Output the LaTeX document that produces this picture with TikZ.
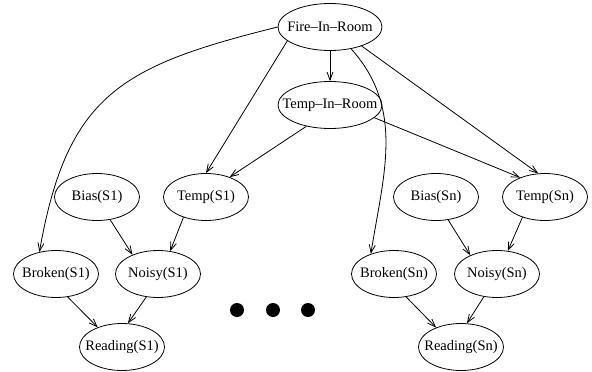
\documentclass[tikz,border=0pt]{standalone}
\usepackage{fontspec}
\setmainfont{Liberation Serif}
\usetikzlibrary{positioning,arrows.meta,shapes.geometric}

\begin{document}
\begin{tikzpicture}[
  font=\fontsize{14.5}{16}\selectfont,
  on grid,
  line width=0.8pt,
  var/.style={ellipse,draw,inner sep=-15pt,minimum width=85pt,minimum height=47pt},
  bigvar/.style={var,minimum width=104pt},
  dot/.style={circle,fill=black,inner sep=0pt,minimum size=14pt},
  arr/.style={-{Straight Barb[length=8pt,width=6pt]}},
]
\useasboundingbox (0,0) rectangle (592pt,-372pt);

% ---- room level ----
\node[bigvar] (fire) at (330pt,-27pt) {Fire--In--Room};
\node[bigvar,below=78pt of fire] (tir) {Temp--In--Room};

% ---- sensor S1 ----
\node[var,below left=170pt and 124pt of fire] (temp1) {Temp(S1)};
\node[var,left=109pt of temp1] (bias1) {Bias(S1)};
\node[var,below left=77pt and 41pt of bias1] (broken1) {Broken(S1)};
\node[var,right=102pt of broken1] (noisy1) {Noisy(S1)};
\node[var,below right=73pt and 66pt of broken1] (read1) {Reading(S1)};

% ---- sensor Sn ----
\node[var,below right=170pt and 215pt of fire] (tempn) {Temp(Sn)};
\node[var,left=109pt of tempn] (biasn) {Bias(Sn)};
\node[var,below left=77pt and 42pt of biasn] (brokenn) {Broken(Sn)};
\node[var,right=103pt of brokenn] (noisyn) {Noisy(Sn)};
\node[var,below right=73pt and 67pt of brokenn] (readn) {Reading(Sn)};

% ---- ellipsis ----
\node[dot,below right=36pt and 79pt of noisy1] (dot1) {};
\node[dot,right=36pt of dot1] (dot2) {};
\node[dot,right=35pt of dot2] (dot3) {};

\draw[arr] (fire) -- (tir);
\draw[arr] (fire.198) -- (temp1.north);
\draw[arr] (fire.west) to[out=194,in=80,looseness=1.25] (broken1.127);
\draw[arr] (fire.314) to[out=312,in=81] (brokenn.139);
\draw[arr] (fire.329) -- (tempn.106);
\draw[arr] (tir.222) -- (temp1.40);
\draw[arr] (tir.344) -- (tempn.142);

\draw[arr] (bias1.300) -- (noisy1.143);
\draw[arr] (temp1.222) -- (noisy1.62);
\draw[arr] (broken1.297) -- (read1.141);
\draw[arr] (noisy1.243) -- (read1.76);

\draw[arr] (biasn.298) -- (noisyn.145);
\draw[arr] (tempn.222) -- (noisyn.65);
\draw[arr] (brokenn.298) -- (readn.142);
\draw[arr] (noisyn.240) -- (readn.76);
\end{tikzpicture}
\end{document}
